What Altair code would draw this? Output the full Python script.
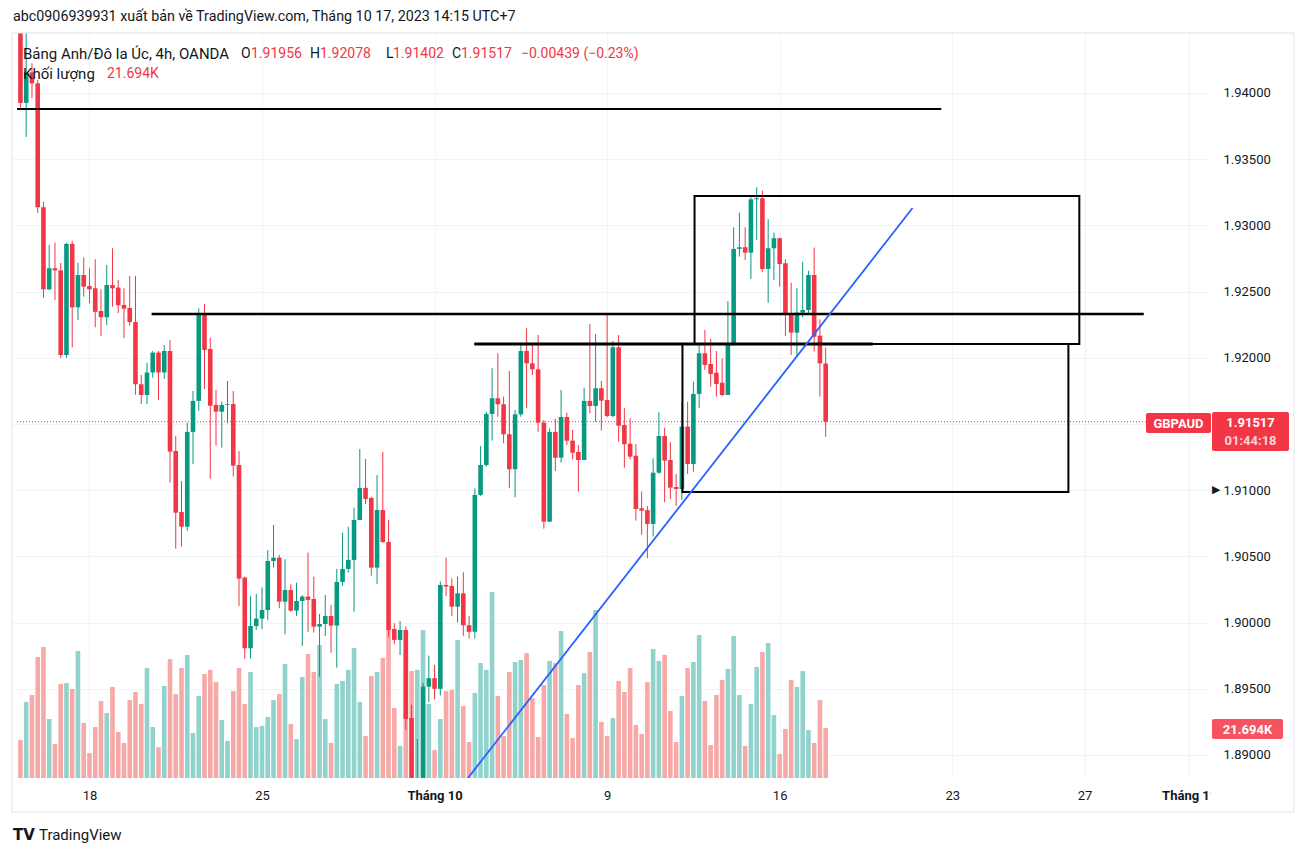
import altair as alt
import pandas as pd

FONT = "Roboto"
UP, DOWN = "#089981", "#f23645"
VUP, VDOWN = "#92d2cc", "#f7a9a7"
DARK = "#131722"

# ---------------- candle data (4h bars, GBPAUD) ----------------
opens = [
    1.9455, 1.93925, 1.94156, 1.94073, 1.93137, 1.92517, 1.92676, 1.9266, 1.92021, 1.9286,
    1.92381, 1.92625, 1.92542, 1.92525, 1.92353, 1.92306, 1.9255, 1.9253, 1.92399, 1.92376,
    1.9227, 1.9180, 1.91719, 1.91889, 1.92039, 1.91889, 1.92051, 1.91296, 1.90835, 1.90724,
    1.9144, 1.91674, 1.92323, 1.92067, 1.91644, 1.91593, 1.91644, 1.9165, 1.9119, 1.9034,
    1.89806, 1.89974, 1.9003, 1.90095, 1.90465, 1.9049, 1.90158, 1.90246, 1.9009, 1.90163,
    1.90196, 1.90178, 1.89969, 1.89989, 1.9005, 1.89977, 1.90307, 1.90405, 1.90473, 1.90775,
    1.91017, 1.90941, 1.90415, 1.9085, 1.90609, 1.89952, 1.89869, 1.89944, 1.89279, 1.8870,
    1.8878, 1.89516, 1.8958, 1.8950, 1.90284, 1.90276, 1.9012, 1.90221, 1.8998, 1.8993,
    1.90964, 1.9119, 1.91576, 1.91694, 1.91649, 1.91422, 1.91158, 1.91573, 1.92051, 1.91958,
    1.91913, 1.9151, 1.90762, 1.9144, 1.91245, 1.91553, 1.91374, 1.91289, 1.91228, 1.91674,
    1.91636, 1.9177, 1.91681, 1.9156, 1.92079, 1.91492, 1.91351, 1.9126, 1.90863, 1.90849,
    1.90745, 1.91132, 1.91409, 1.91228, 1.91024, 1.91009, 1.9148, 1.91198, 1.91727, 1.92034,
    1.91953, 1.91887, 1.91812, 1.91719, 1.92097, 1.92822, 1.92835, 1.92794, 1.93197, 1.93205,
    1.92671, 1.92827, 1.92903, 1.92714, 1.92331, 1.9219, 1.92341, 1.92361, 1.92625, 1.92167,
    1.91956,
]
highs = [
    1.9462, 1.9455, 1.94224, 1.9410, 1.93179, 1.92853, 1.9287, 1.92716, 1.9287, 1.92884,
    1.92718, 1.92759, 1.92676, 1.92744, 1.92517, 1.927, 1.92827, 1.92588, 1.92525, 1.92618,
    1.92618, 1.9187, 1.91962, 1.92051, 1.92051, 1.92097, 1.92134, 1.91409, 1.91069, 1.9151,
    1.91749, 1.92374, 1.92406, 1.92152, 1.91757, 1.91669, 1.91825, 1.91749, 1.91296, 1.90347,
    1.902, 1.90215, 1.90264, 1.90548, 1.90737, 1.9051, 1.90478, 1.9029, 1.90301, 1.90208,
    1.90528, 1.90347, 1.90065, 1.90208, 1.90133, 1.90405, 1.90679, 1.90724, 1.90868, 1.91311,
    1.91236, 1.9095, 1.91115, 1.91289, 1.90775, 1.89995, 1.90012, 1.89969, 1.89378, 1.89121,
    1.89544, 1.8975, 1.8968, 1.9031, 1.9049, 1.90334, 1.90347, 1.9038, 1.9005, 1.91014,
    1.91334, 1.91591, 1.91921, 1.92034, 1.91706, 1.919, 1.91606, 1.92102, 1.92223, 1.92097,
    1.92172, 1.9153, 1.91467, 1.91538, 1.91757, 1.91585, 1.91455, 1.91341, 1.91774, 1.92255,
    1.9218, 1.91825, 1.92336, 1.92127, 1.92172, 1.91619, 1.91543, 1.91349, 1.90989, 1.9088,
    1.91241, 1.91588, 1.91472, 1.91362, 1.91122, 1.91668, 1.91668, 1.9182, 1.9211, 1.9221,
    1.92142, 1.92051, 1.91996, 1.92429, 1.92986, 1.93096, 1.92986, 1.93222, 1.93288, 1.93262,
    1.93046, 1.92945, 1.92907, 1.92744, 1.92567, 1.92525, 1.92726, 1.92658, 1.92832, 1.92291,
    1.92078,
]
lows = [
    1.9389, 1.93668, 1.9396, 1.93094, 1.92454, 1.9251, 1.92437, 1.91998, 1.92, 1.92079,
    1.92286, 1.92461, 1.92412, 1.9223, 1.92163, 1.92246, 1.92386, 1.92338, 1.92148, 1.92243,
    1.9172, 1.9165, 1.91651, 1.9185, 1.91681, 1.9184, 1.91057, 1.90558, 1.90574, 1.90694,
    1.91196, 1.916, 1.91764, 1.91087, 1.91337, 1.91322, 1.91505, 1.91103, 1.90125, 1.89728,
    1.89728, 1.89945, 1.8995, 1.90019, 1.90415, 1.90108, 1.89912, 1.90082, 1.9005, 1.89823,
    1.89929, 1.89924, 1.89591, 1.89899, 1.89773, 1.89659, 1.90279, 1.90377, 1.90082, 1.90775,
    1.90894, 1.90354, 1.90292, 1.90603, 1.89889, 1.89836, 1.89755, 1.89189, 1.8862, 1.8866,
    1.8874, 1.8940, 1.8942, 1.8945, 1.9020, 1.9005, 1.9000, 1.8990, 1.8988, 1.8988,
    1.90957, 1.91177, 1.91374, 1.91555, 1.91354, 1.91014, 1.90946, 1.91555, 1.91619, 1.9187,
    1.91442, 1.90709, 1.90762, 1.91145, 1.91208, 1.91341, 1.91233, 1.90989, 1.91228, 1.91581,
    1.91517, 1.9145, 1.9155, 1.9155, 1.91366, 1.9117, 1.91233, 1.9077, 1.90662, 1.90486,
    1.9065, 1.91125, 1.90909, 1.90934, 1.90881, 1.90926, 1.91122, 1.9114, 1.91619, 1.91908,
    1.91782, 1.91706, 1.91711, 1.91719, 1.92092, 1.92764, 1.92739, 1.92595, 1.9289, 1.9265,
    1.92416, 1.92588, 1.92537, 1.92165, 1.92021, 1.92008, 1.92306, 1.92336, 1.92046, 1.91706,
    1.91402,
]
closes = [
    1.93925, 1.94156, 1.94073, 1.93137, 1.92517, 1.92676, 1.9266, 1.92021, 1.9286, 1.92381,
    1.92625, 1.92537, 1.92517, 1.92347, 1.92306, 1.9255, 1.92525, 1.92397, 1.92371, 1.9227,
    1.9180, 1.91719, 1.91889, 1.92039, 1.91889, 1.92051, 1.91291, 1.9083, 1.90724, 1.9144,
    1.91674, 1.92323, 1.92059, 1.91638, 1.91593, 1.91644, 1.9165, 1.91185, 1.90332, 1.89806,
    1.89974, 1.9003, 1.90095, 1.90465, 1.9049, 1.90158, 1.90246, 1.9009, 1.90163, 1.90196,
    1.90171, 1.89969, 1.89989, 1.9005, 1.89977, 1.90307, 1.90405, 1.90473, 1.90775, 1.91017,
    1.90934, 1.90415, 1.9085, 1.90609, 1.89944, 1.89869, 1.89944, 1.89272, 1.8870, 1.8878,
    1.89516, 1.8958, 1.8950, 1.90284, 1.90272, 1.9012, 1.90221, 1.8998, 1.8993, 1.90964,
    1.9119, 1.91576, 1.91694, 1.91649, 1.91422, 1.91158, 1.91573, 1.92051, 1.91958, 1.91913,
    1.9151, 1.90762, 1.9144, 1.91245, 1.91553, 1.91374, 1.91283, 1.91228, 1.91674, 1.91636,
    1.9177, 1.91676, 1.9156, 1.92079, 1.91487, 1.91347, 1.91253, 1.90858, 1.90845, 1.90745,
    1.91132, 1.91409, 1.91223, 1.91019, 1.91009, 1.9148, 1.91198, 1.91727, 1.92034, 1.91946,
    1.91878, 1.91802, 1.91719, 1.92097, 1.92822, 1.92835, 1.92794, 1.93197, 1.93205, 1.92671,
    1.92827, 1.92903, 1.92708, 1.92323, 1.9219, 1.92341, 1.92361, 1.92625, 1.92159, 1.91958,
    1.91517,
]
volumes_k = [
    16.5, 33.0, 36.0, 52.5, 56.8, 25.6, 14.7, 40.8, 41.2, 38.6,
    55.1, 23.9, 10.8, 22.1, 33.4, 28.2, 39.5, 20.0, 15.2, 33.8,
    37.3, 32.1, 47.7, 22.1, 13.4, 39.9, 51.6, 36.4, 47.7, 53.4,
    19.5, 35.6, 45.1, 46.9, 41.6, 25.2, 16.1, 37.7, 47.7, 32.1,
    46.0, 22.1, 22.6, 26.5, 33.8, 36.4, 49.5, 23.4, 16.9, 43.8,
    53.8, 46.0, 57.7, 25.6, 15.2, 40.8, 42.1, 46.9, 56.4, 33.0,
    18.2, 44.2, 46.0, 52.1, 64.2, 30.4, 13.9, 55.5, 46.4, 46.9,
    64.2, 32.1, 12.1, 25.6, 37.7, 38.2, 59.9, 31.2, 15.6, 36.9,
    49.9, 46.9, 80.7, 35.6, 18.2, 46.0, 50.3, 51.2, 54.2, 34.7,
    17.8, 40.3, 50.8, 49.9, 63.8, 27.8, 17.4, 40.3, 45.5, 54.7,
    72.9, 24.3, 18.2, 26.0, 42.1, 37.3, 47.7, 23.0, 19.1, 41.6,
    56.0, 50.8, 53.4, 29.1, 15.6, 35.6, 47.7, 50.3, 62.0, 33.4,
    14.3, 36.0, 42.5, 47.3, 61.6, 36.0, 13.9, 32.1, 48.2, 54.7,
    58.6, 27.3, 10.4, 21.3, 42.5, 39.5, 46.4, 20.8, 15.2, 33.8,
    21.694,
]

# time axis ticks (bar index -> label)
tick_pos = [12, 42, 72, 102, 132, 162, 185, 203.2]
tick_lab = ["18", "25", "Tháng 10", "9", "16", "23", "27", "Tháng 11"]
month_ticks = [72, 203.2]
price_ticks = [1.89, 1.895, 1.90, 1.905, 1.91, 1.915, 1.92, 1.925, 1.93, 1.935, 1.94]

# drawings
hl_price = [1.93879, 1.92331, 1.92104]
hl_start = [-0.6, 22.8, 78.9]
hl_end = [160.1, 195.3, 148.2]
hl_width = [2.0, 2.4, 3.2]
box_x1 = [117.2, 115.1]
box_x2 = [184.1, 182.2]
box_top = [1.93222, 1.92104]
box_bot = [1.92104, 1.90986]
trend_bar = [77.7, 155.1]
trend_price = [1.8882, 1.93131]

last_close = closes[-1]
X_DOM = [-0.6, 205.95]
Y_DOM = [1.88826, 1.94453]
VOL_MAX = 323.2
W, H = 1198, 745

# ---------------- frames ----------------
df = pd.DataFrame({"bar": list(range(len(opens))), "o": opens, "h": highs,
                   "l": lows, "c": closes, "v": volumes_k})
df["col"] = [UP if c >= o else DOWN for o, c in zip(opens, closes)]
df["vcol"] = [VUP if c >= o else VDOWN for o, c in zip(opens, closes)]

xs = alt.Scale(domain=X_DOM, nice=False, zero=False)
ys = alt.Scale(domain=Y_DOM, nice=False, zero=False)

lab_expr = " : ".join(f"datum.value == {p} ? '{t}'" for p, t in zip(tick_pos, tick_lab)) + " : ''"
bold_test = " || ".join(f"datum.value == {p}" for p in month_ticks)

x_axis = alt.Axis(values=tick_pos, labelExpr=lab_expr, grid=True, gridColor="#f0f3fa",
                  ticks=False, domain=False, labelPadding=11, labelFontSize=13,
                  labelColor=DARK, labelFont=FONT, title=None, labelFlush=False,
                  labelOverlap=False,
                  labelFontWeight={"condition": {"test": bold_test, "value": "bold"},
                                   "value": "normal"})
y_axis = alt.Axis(orient="right", values=price_ticks,
                  labelExpr="abs(datum.value - 1.915) < 0.0001 ? '' : format(datum.value, '.5f')",
                  grid=True, gridColor="#f0f3fa", ticks=False, domain=False,
                  labelAlign="left", labelPadding=13, labelFontSize=13,
                  labelColor=DARK, labelFont=FONT, title=None)


def X(f):
    return alt.X(f, scale=xs, axis=x_axis)


def Y(f):
    return alt.Y(f, scale=ys, axis=y_axis)


base = alt.Chart(df)

volume = base.mark_bar(size=4.6, clip=True).encode(
    x=X("bar:Q"),
    y=alt.Y("v:Q", scale=alt.Scale(domain=[0, VOL_MAX], nice=False), axis=None),
    color=alt.Color("vcol:N", scale=None),
)

cur = pd.DataFrame({"x1": [X_DOM[0]], "x2": [X_DOM[1]], "p": [last_close]})
cur_line = alt.Chart(cur).mark_rule(color=DOWN, strokeDash=[1, 2], strokeWidth=1).encode(
    x=X("x1:Q"), x2="x2:Q", y=Y("p:Q"))

wicks = base.mark_rule(strokeWidth=1, clip=True).encode(
    x=X("bar:Q"), y=Y("l:Q"), y2="h:Q", color=alt.Color("col:N", scale=None))
bodies = base.mark_bar(size=4.6, clip=True).encode(
    x=X("bar:Q"), y=Y("o:Q"), y2="c:Q", color=alt.Color("col:N", scale=None))

hl = pd.DataFrame({"p": hl_price, "x1": hl_start, "x2": hl_end, "w": hl_width})
hlines = alt.Chart(hl).mark_rule(color="#000000", clip=True).encode(
    x=X("x1:Q"), x2="x2:Q", y=Y("p:Q"), strokeWidth=alt.StrokeWidth("w:Q", scale=None))

bx = pd.DataFrame({"x1": box_x1, "x2": box_x2, "t": box_top, "b": box_bot})
boxes = alt.Chart(bx).mark_rect(fillOpacity=0, stroke="#000000", strokeWidth=2, clip=True).encode(
    x=X("x1:Q"), x2="x2:Q", y=Y("t:Q"), y2="b:Q")

tr = pd.DataFrame({"bar": trend_bar, "p": trend_price})
trend = alt.Chart(tr).mark_line(color="#2962ff", strokeWidth=1.8, clip=True).encode(
    x=X("bar:Q"), y=Y("p:Q"))

price_group = alt.layer(cur_line, wicks, bodies, hlines, boxes, trend)

# ---------------- annotations (pixel positions relative to plot origin) ----------------
frame = alt.Chart(pd.DataFrame({"px": [0], "py": [0], "px2": [1282], "py2": [779]})).mark_rect(
    fillOpacity=0, stroke="#e0e3eb", strokeWidth=1).encode(
    x=alt.X("px:Q", scale=None), x2="px2:Q", y=alt.Y("py:Q", scale=None), y2="py2:Q")

cover = alt.Chart(pd.DataFrame({"px": [1199], "py": [746], "px2": [1281], "py2": [778]})).mark_rect(
    color="white").encode(
    x=alt.X("px:Q", scale=None), x2="px2:Q", y=alt.Y("py:Q", scale=None), y2="py2:Q")

box_df = pd.DataFrame({
    "px": [1134, 1200, 1200], "px2": [1199, 1277, 1271],
    "py": [380, 379, 686], "py2": [400, 418, 706],
    "col": [DOWN, DOWN, "#f5535f"],
})
label_boxes = alt.Chart(box_df).mark_rect(cornerRadius=2).encode(
    x=alt.X("px:Q", scale=None), x2="px2:Q", y=alt.Y("py:Q", scale=None), y2="py2:Q",
    color=alt.Color("col:N", scale=None))

hdr = pd.DataFrame({
    "t": ["abc0906939931 xuất bản về TradingView.com, Tháng 10 17, 2023 14:15 UTC+7",
          "Bảng Anh/Đô la Úc, 4h, OANDA", "O", "1.91956", "H", "1.92078", "L", "1.91402",
          "C", "1.91517", "−0.00439 (−0.23%)", "Khối lượng", "21.694K"],
    "px": [1, 11, 229, 239, 298, 308, 374, 381, 440, 449, 509, 11, 95],
    "py": [-16, 21, 21, 21, 21, 21, 21, 21, 21, 21, 21, 41, 41],
    "fs": [14.3, 15, 14, 14, 14, 14, 14, 14, 14, 14, 14, 15, 14],
    "col": [DARK, DARK, DARK, DOWN, DARK, DOWN, DARK, DOWN, DARK, DOWN, DOWN, DARK, DOWN],
})
header = alt.Chart(hdr).mark_text(align="left", baseline="middle", font=FONT).encode(
    x=alt.X("px:Q", scale=None), y=alt.Y("py:Q", scale=None), text="t:N",
    size=alt.Size("fs:Q", scale=None),
    color=alt.Color("col:N", scale=None))

box_txt = pd.DataFrame({
    "t": ["GBPAUD", "1.91517", "01:44:18", "21.694K"],
    "px": [1166.5, 1238.5, 1238.5, 1235.5],
    "py": [390.5, 389.5, 408, 696.5],
    "col": ["#ffffff", "#ffffff", "#fcd3d7", "#ffffff"],
})
box_text = alt.Chart(box_txt).mark_text(align="center", baseline="middle", font=FONT,
                                        fontSize=13, fontWeight="bold").encode(
    x=alt.X("px:Q", scale=None), y=alt.Y("py:Q", scale=None), text="t:N",
    color=alt.Color("col:N", scale=None))

arrow = alt.Chart(pd.DataFrame({"t": ["▶"], "px": [1200], "py": [457]})).mark_text(
    align="left", baseline="middle", font="DejaVu Sans", fontSize=11, color=DARK).encode(
    x=alt.X("px:Q", scale=None), y=alt.Y("py:Q", scale=None), text="t:N")

logo = alt.Chart(pd.DataFrame({"t": ["TV"], "px": [1], "py": [802]})).mark_text(
    align="left", baseline="middle", font="DejaVu Sans", fontSize=15, fontWeight="bold",
    color=DARK).encode(x=alt.X("px:Q", scale=None), y=alt.Y("py:Q", scale=None), text="t:N")
logo_txt = alt.Chart(pd.DataFrame({"t": ["TradingView"], "px": [27], "py": [802]})).mark_text(
    align="left", baseline="middle", font=FONT, fontSize=15, color=DARK).encode(
    x=alt.X("px:Q", scale=None), y=alt.Y("py:Q", scale=None), text="t:N")

chart = alt.layer(
    volume, price_group, frame, cover, label_boxes, header, box_text, arrow, logo, logo_txt
).resolve_scale(y="independent").properties(
    width=W, height=H,
    padding={"left": 12, "top": 33, "right": 97, "bottom": 79},
    autosize=alt.AutoSizeParams(type="none"),
    background="white",
).configure_view(strokeWidth=0)

chart.save("out.html", embed_options={"renderer": "svg", "actions": False})
